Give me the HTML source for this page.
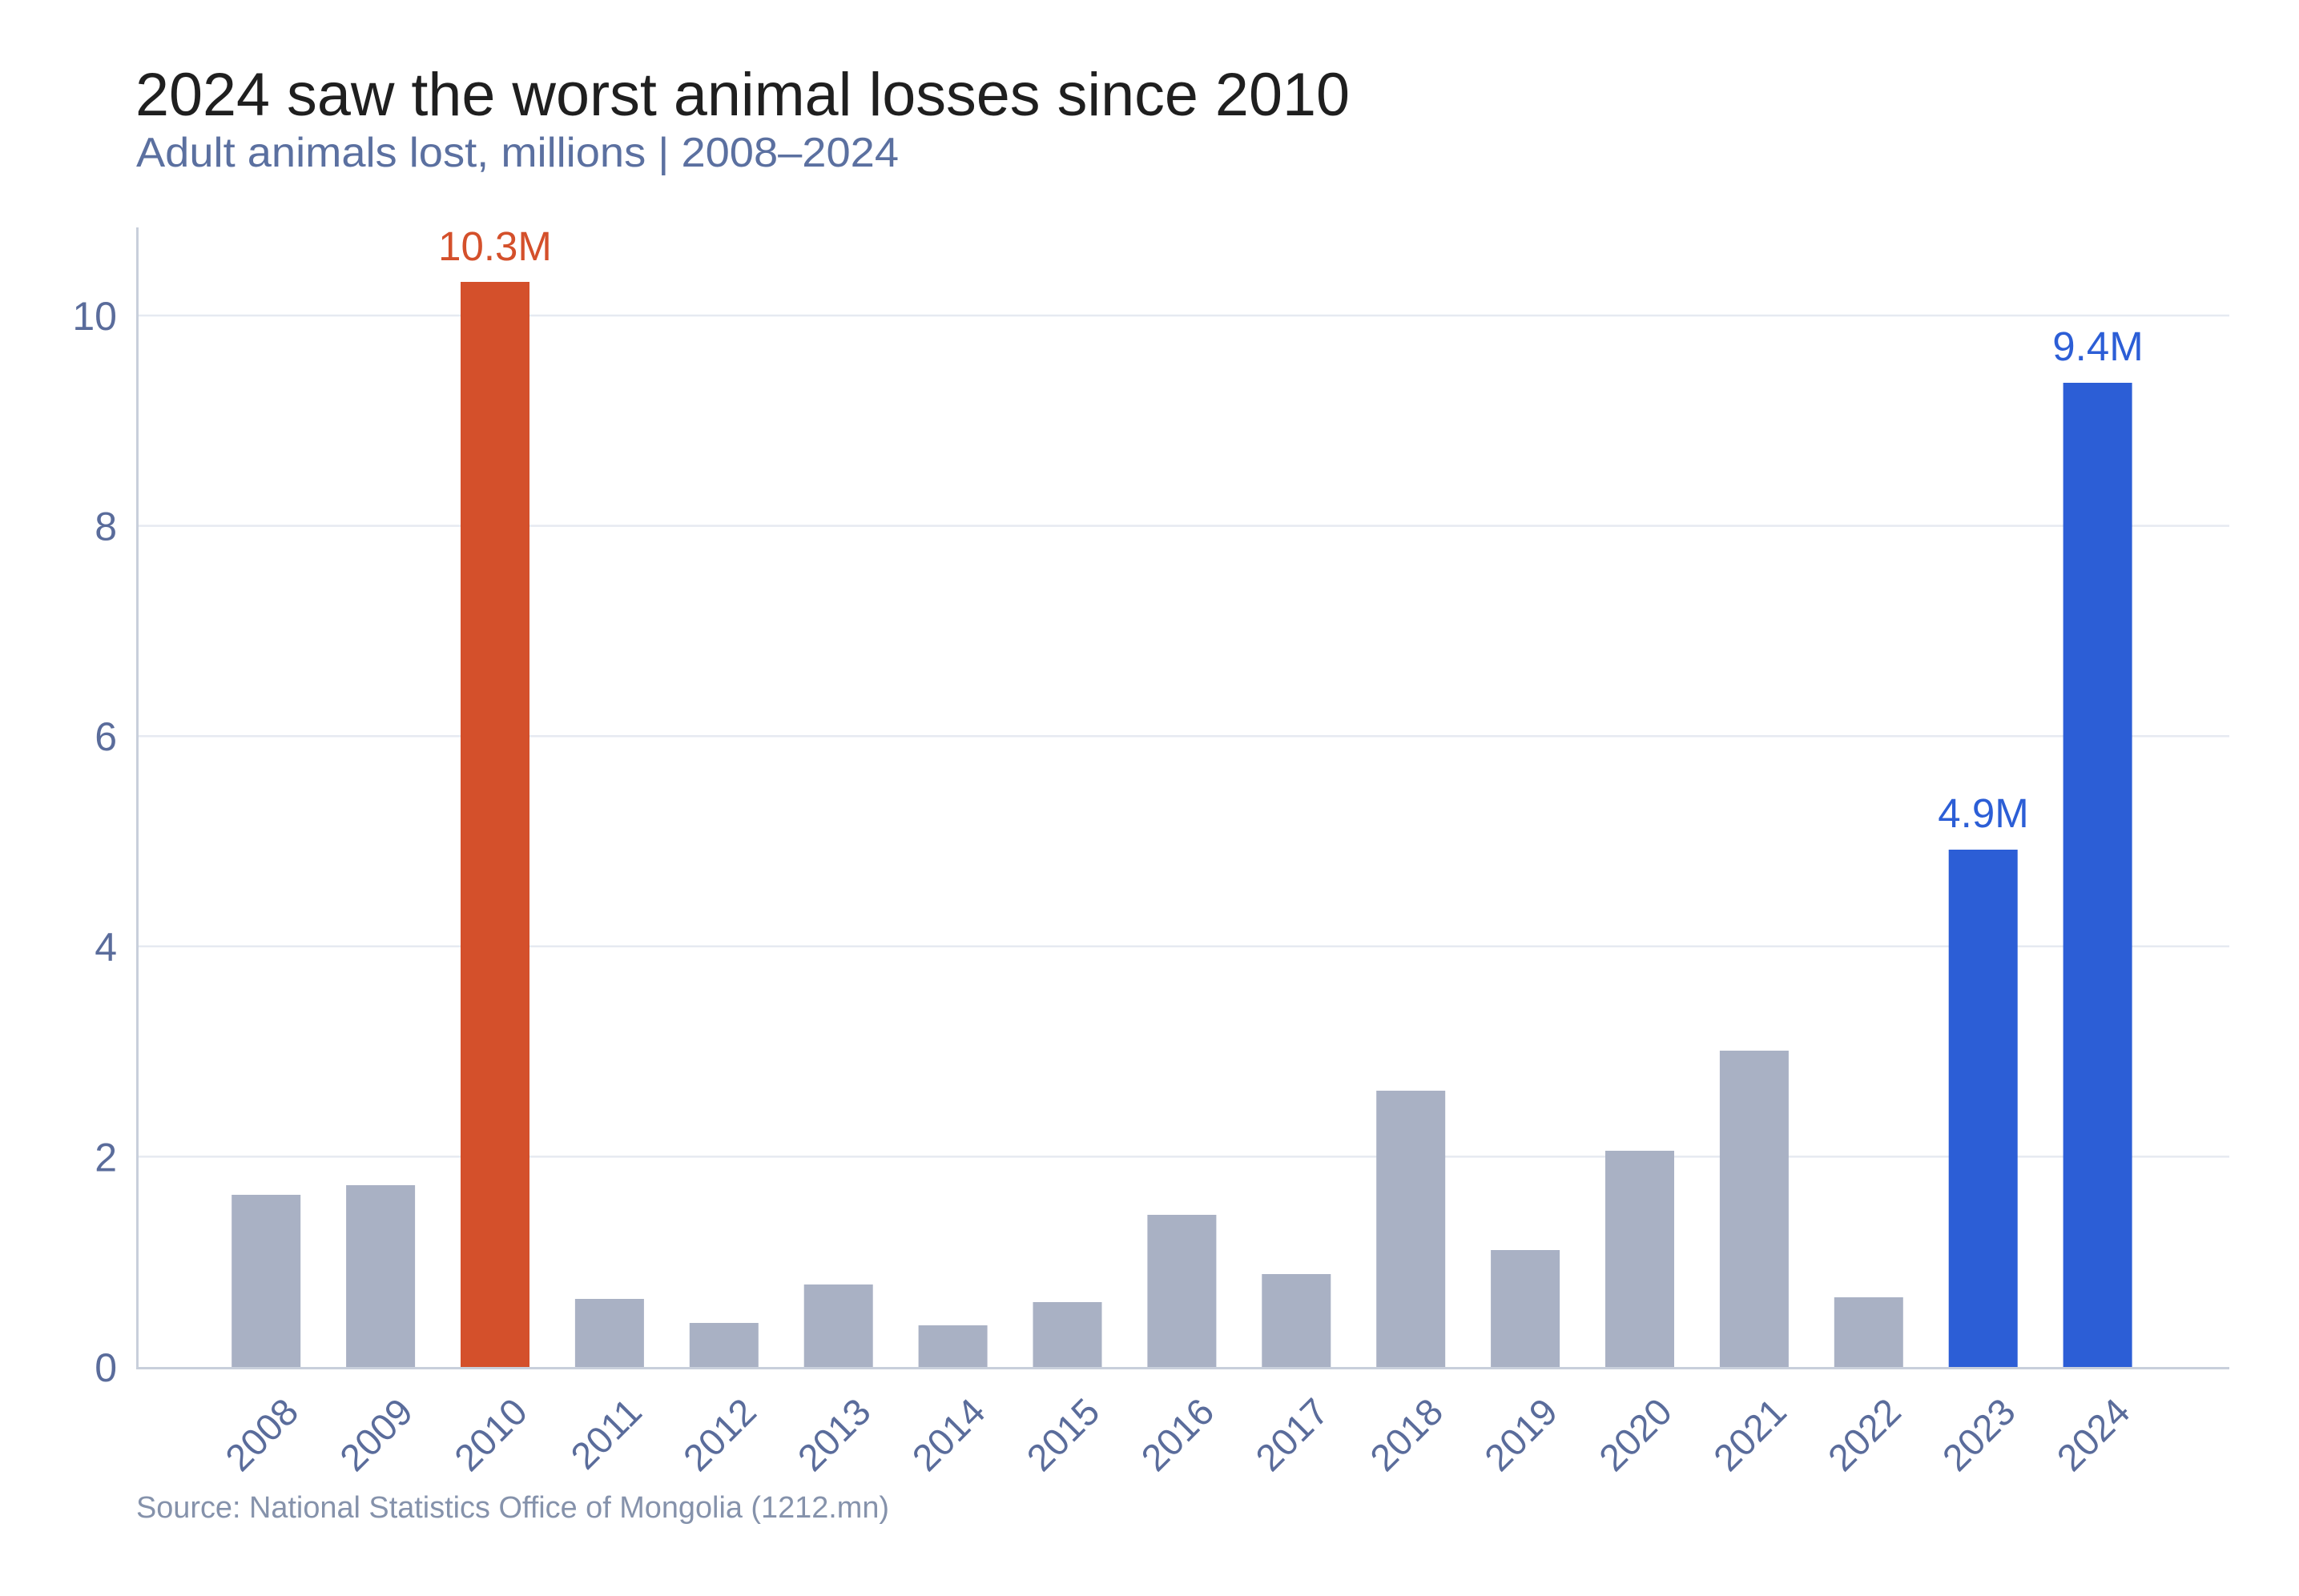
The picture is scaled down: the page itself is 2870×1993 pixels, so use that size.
<!DOCTYPE html>
<html>
<head>
<meta charset="utf-8">
<style>
  html, body { margin: 0; padding: 0; background: #ffffff; }
  svg { display: block; }
  text { font-family: "Liberation Sans", Arial, Helvetica, sans-serif; }
</style>
</head>
<body>
<svg width="2870" height="1993" viewBox="0 0 2870 1993" xmlns="http://www.w3.org/2000/svg">
  <rect x="0" y="0" width="2870" height="1993" fill="#ffffff"/>

  <!-- Title & subtitle -->
  <text x="169" y="144" font-size="76" fill="#1f1f1f" textLength="1516" lengthAdjust="spacingAndGlyphs">2024 saw the worst animal losses since 2010</text>
  <text x="170" y="208" font-size="52" fill="#5b70a0" textLength="952" lengthAdjust="spacingAndGlyphs">Adult animals lost, millions | 2008–2024</text>

  <!-- Gridlines -->
  <g stroke="#e6eaf1" stroke-width="2.5">
    <line x1="171" y1="394" x2="2783" y2="394"/>
    <line x1="171" y1="656.6" x2="2783" y2="656.6"/>
    <line x1="171" y1="919.2" x2="2783" y2="919.2"/>
    <line x1="171" y1="1181.8" x2="2783" y2="1181.8"/>
    <line x1="171" y1="1444.4" x2="2783" y2="1444.4"/>
  </g>

  <!-- Bars -->
  <g>
    <rect x="289.2" y="1492" width="86" height="215" fill="#a9b1c4"/>
    <rect x="432.1" y="1480" width="86" height="227" fill="#a9b1c4"/>
    <rect x="575.0" y="352" width="86" height="1355" fill="#d4502b"/>
    <rect x="717.9" y="1622" width="86" height="85" fill="#a9b1c4"/>
    <rect x="860.8" y="1652" width="86" height="55" fill="#a9b1c4"/>
    <rect x="1003.7" y="1604" width="86" height="103" fill="#a9b1c4"/>
    <rect x="1146.6" y="1655" width="86" height="52" fill="#a9b1c4"/>
    <rect x="1289.5" y="1626" width="86" height="81" fill="#a9b1c4"/>
    <rect x="1432.4" y="1517" width="86" height="190" fill="#a9b1c4"/>
    <rect x="1575.3" y="1591" width="86" height="116" fill="#a9b1c4"/>
    <rect x="1718.2" y="1362" width="86" height="345" fill="#a9b1c4"/>
    <rect x="1861.1" y="1561" width="86" height="146" fill="#a9b1c4"/>
    <rect x="2004.0" y="1437" width="86" height="270" fill="#a9b1c4"/>
    <rect x="2146.9" y="1312" width="86" height="395" fill="#a9b1c4"/>
    <rect x="2289.8" y="1620" width="86" height="87" fill="#a9b1c4"/>
    <rect x="2432.7" y="1061" width="86" height="646" fill="#2c5ed6"/>
    <rect x="2575.6" y="478" width="86" height="1229" fill="#2c5ed6"/>
  </g>

  <!-- Axes -->
  <line x1="171.5" y1="284" x2="171.5" y2="1710" stroke="#c8cfdb" stroke-width="3"/>
  <line x1="170" y1="1708.5" x2="2783" y2="1708.5" stroke="#c8cfdb" stroke-width="3"/>

  <!-- Value labels -->
  <g font-size="51" text-anchor="middle">
    <text x="618" y="325" fill="#d4502b">10.3M</text>
    <text x="2476" y="1033" fill="#2c5ed6">4.9M</text>
    <text x="2619" y="450" fill="#2c5ed6">9.4M</text>
  </g>

  <!-- Y tick labels -->
  <g font-size="50" fill="#5a6c9b" text-anchor="end">
    <text x="146" y="1725">0</text>
    <text x="146" y="1462.4">2</text>
    <text x="146" y="1199.8">4</text>
    <text x="146" y="937.2">6</text>
    <text x="146" y="674.6">8</text>
    <text x="146" y="412">10</text>
  </g>

  <!-- X tick labels -->
  <g font-size="47" fill="#5a6c9b" text-anchor="end">
    <text transform="translate(375.2,1766) rotate(-45)">2008</text>
    <text transform="translate(518.1,1766) rotate(-45)">2009</text>
    <text transform="translate(661.0,1766) rotate(-45)">2010</text>
    <text transform="translate(803.9,1766) rotate(-45)">2011</text>
    <text transform="translate(946.8,1766) rotate(-45)">2012</text>
    <text transform="translate(1089.7,1766) rotate(-45)">2013</text>
    <text transform="translate(1232.6,1766) rotate(-45)">2014</text>
    <text transform="translate(1375.5,1766) rotate(-45)">2015</text>
    <text transform="translate(1518.4,1766) rotate(-45)">2016</text>
    <text transform="translate(1661.3,1766) rotate(-45)">2017</text>
    <text transform="translate(1804.2,1766) rotate(-45)">2018</text>
    <text transform="translate(1947.1,1766) rotate(-45)">2019</text>
    <text transform="translate(2090.0,1766) rotate(-45)">2020</text>
    <text transform="translate(2232.9,1766) rotate(-45)">2021</text>
    <text transform="translate(2375.8,1766) rotate(-45)">2022</text>
    <text transform="translate(2518.7,1766) rotate(-45)">2023</text>
    <text transform="translate(2661.6,1766) rotate(-45)">2024</text>
  </g>

  <!-- Source -->
  <text x="170" y="1895" font-size="38" fill="#8592ab" textLength="940" lengthAdjust="spacingAndGlyphs">Source: National Statistics Office of Mongolia (1212.mn)</text>
</svg>
</body>
</html>
